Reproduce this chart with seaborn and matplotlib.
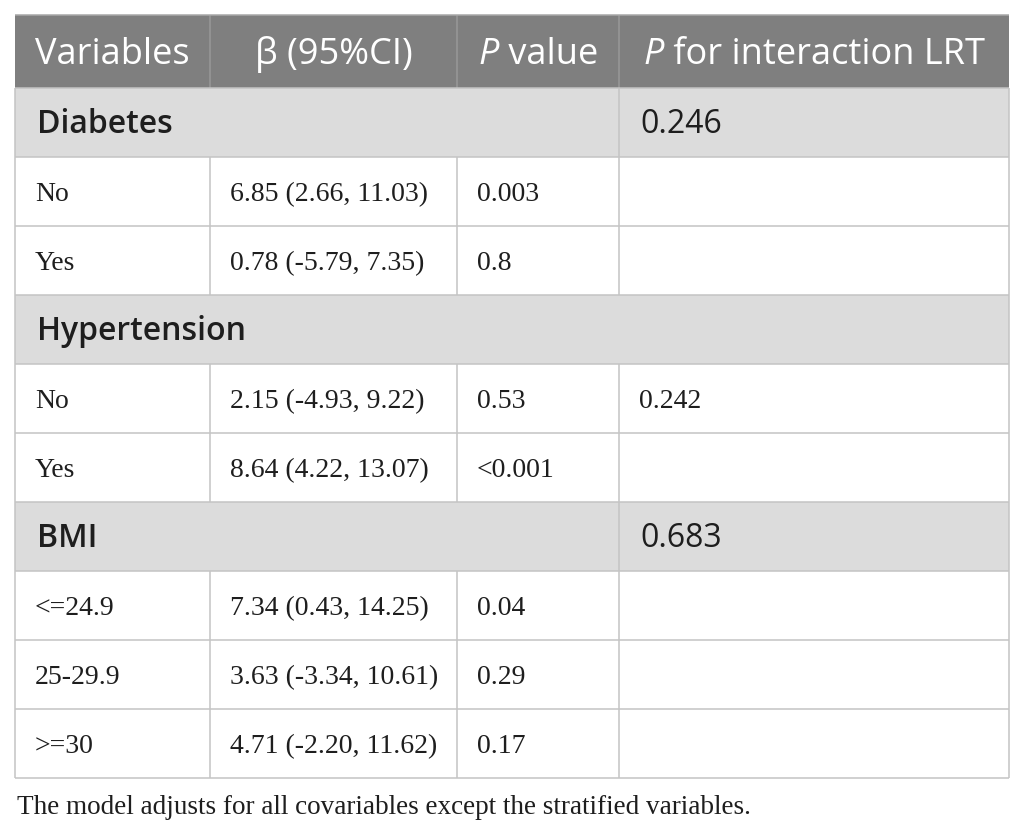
import matplotlib
matplotlib.use('Agg')
import matplotlib.pyplot as plt
from matplotlib.patches import Rectangle
import seaborn as sns

sns.set_theme(style='white')
plt.rcParams['font.family'] = ['Open Sans', 'DejaVu Sans']

# table content
header = [[('Variables', 'normal')],
          [('β (95%CI)', 'normal')],
          [('P', 'italic'), (' value', 'normal')],
          [('P', 'italic'), (' for interaction LRT', 'normal')]]
sections = ['Diabetes', 'Hypertension', 'BMI']
section_lrt = ['0.246', '', '0.683']
subgroups = [['No', 'Yes'], ['No', 'Yes'], ['<=24.9', '25-29.9', '>=30']]
betas = [['6.85 (2.66, 11.03)', '0.78 (-5.79, 7.35)'],
         ['2.15 (-4.93, 9.22)', '8.64 (4.22, 13.07)'],
         ['7.34 (0.43, 14.25)', '3.63 (-3.34, 10.61)', '4.71 (-2.20, 11.62)']]
pvalues = [['0.003', '0.8'], ['0.53', '<0.001'], ['0.04', '0.29', '0.17']]
row_lrt = [['', ''], ['0.242', ''], ['', '', '']]
note = 'The model adjusts for all covariables except the stratified variables.'

# layout (pixels)
W, H = 1025, 835
col_edges = [15, 210, 457, 619, 1009]
top = 15
header_h = 73
row_h = 69
pad = 20

HEAD_BG = '#7f7f7f'
SEC_BG = '#dcdcdc'
GRID = '#c4c4c4'
TXT = '#1e1e1e'
serif = ['Liberation Serif', 'DejaVu Serif']

fig = plt.figure(figsize=(W / 100, H / 100), dpi=100)
ax = fig.add_axes([0, 0, 1, 1])
ax.set_xlim(0, W)
ax.set_ylim(H, 0)
ax.axis('off')
renderer = fig.canvas.get_renderer()


def rich_text(x, y, parts, center=True, **kw):
    # draw text pieces side by side (for the italic P)
    objs = []
    cur = x
    for s, style in parts:
        t = ax.text(cur, y, s, ha='left', va='center', style=style, **kw)
        bb = t.get_window_extent(renderer)
        objs.append(t)
        cur += bb.width  # pixels == data units here
    if center:
        total = cur - x
        for t in objs:
            px, py = t.get_position()
            t.set_position((px - total / 2, py))


def hline(y, x0, x1, color=GRID):
    ax.plot([x0, x1], [y, y], color=color, lw=1.1, solid_capstyle='butt')


def vline(x, y0, y1, color=GRID):
    ax.plot([x, x], [y0, y1], color=color, lw=1.1, solid_capstyle='butt')


# header
ax.add_patch(Rectangle((col_edges[0], top), col_edges[-1] - col_edges[0], header_h,
                       facecolor=HEAD_BG, edgecolor='none'))
for i, parts in enumerate(header):
    cx = (col_edges[i] + col_edges[i + 1]) / 2
    rich_text(cx, top + header_h / 2 + 3, parts, color='white', fontsize=26)
for xe in col_edges[1:-1]:
    vline(xe, top, top + header_h, color='#999999')
hline(top, col_edges[0], col_edges[-1], color='#a8a8a8')

y = top + header_h
for k, sec in enumerate(sections):
    # section row
    ax.add_patch(Rectangle((col_edges[0], y), col_edges[-1] - col_edges[0], row_h,
                           facecolor=SEC_BG, edgecolor='none'))
    ax.text(col_edges[0] + pad + 2, y + row_h / 2 + 2, sec, ha='left', va='center',
            fontsize=23, weight='semibold', color=TXT)
    if section_lrt[k]:
        ax.text(col_edges[3] + pad + 1, y + row_h / 2 + 2, section_lrt[k], ha='left',
                va='center', fontsize=23, color=TXT)
        vline(col_edges[3], y, y + row_h)
    vline(col_edges[0], y, y + row_h)
    vline(col_edges[-1], y, y + row_h)
    hline(y, col_edges[0], col_edges[-1])
    y += row_h
    # subgroup rows
    for j, sg in enumerate(subgroups[k]):
        cells = [sg, betas[k][j], pvalues[k][j], row_lrt[k][j]]
        for c, s in enumerate(cells):
            if s:
                ax.text(col_edges[c] + pad, y + row_h / 2 + 3, s, ha='left', va='center',
                        fontsize=20, family=serif, color=TXT)
        for xe in col_edges:
            vline(xe, y, y + row_h)
        hline(y, col_edges[0], col_edges[-1])
        y += row_h
hline(y, col_edges[0], col_edges[-1])

ax.text(col_edges[0] + 2, y + 30, note, ha='left', va='center', fontsize=19.5,
        family=serif, color=TXT)

fig.savefig('out.png', dpi=100)
